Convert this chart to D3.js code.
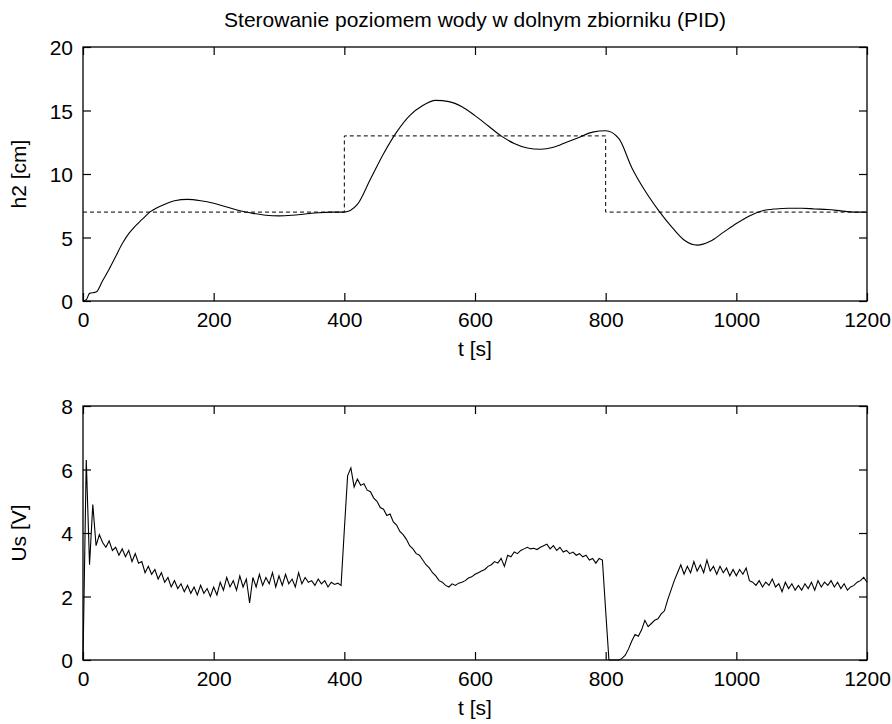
<!DOCTYPE html>
<html>
<head>
<meta charset="utf-8">
<script src="https://cdn.jsdelivr.net/npm/d3@7"></script>
<style>
  body { margin: 0; background: #fff; }
  text { font-family: "Liberation Sans", Arial, sans-serif; fill: #000; }
</style>
</head>
<body>
<svg></svg>
<script>
/* PID water level control, two stacked plots */
var w = 892, h = 724;

var svg = d3.select("svg")
            .attr("width", w)
            .attr("height", h);

var xTicks = [0, 200, 400, 600, 800, 1000, 1200];
var h2Ticks = [0, 5, 10, 15, 20];
var usTicks = [0, 2, 4, 6, 8];

// water level h2 [cm], sampled every 20 s (plus early points)
var h2_t = [0, 5, 10, 20, 30, 40, 50, 60, 70, 80, 90, 100, 120, 140, 160, 180, 200,
            220, 240, 260, 280, 300, 320, 340, 360, 380, 400, 420, 440, 460, 480,
            500, 520, 540, 560, 580, 600, 620, 640, 660, 680, 700, 720, 740, 760,
            780, 800, 820, 840, 860, 880, 900, 920, 940, 960, 980, 1000, 1020,
            1040, 1060, 1080, 1100, 1120, 1140, 1160, 1180, 1200];
var h2_val = [0, 0.1, 0.6, 0.7, 1.6, 2.5, 3.5, 4.5, 5.3, 5.9, 6.4, 6.9, 7.5, 7.9, 8.0, 7.9, 7.7,
              7.4, 7.1, 6.9, 6.75, 6.7, 6.75, 6.85, 6.95, 7.0, 7.0, 7.6, 9.6, 11.6, 13.3,
              14.6, 15.4, 15.8, 15.7, 15.3, 14.6, 13.8, 13.0, 12.4, 12.05, 11.95, 12.1, 12.5, 12.9,
              13.3, 13.4, 12.8, 10.5, 8.7, 7.2, 5.9, 4.8, 4.4, 4.7, 5.4, 6.1, 6.7,
              7.1, 7.25, 7.3, 7.3, 7.25, 7.2, 7.1, 7.0, 7.0];

// set point (dashed)
var sp_t = [0, 400, 400, 800, 800, 1200];
var sp_val = [7, 7, 13, 13, 7, 7];

// control voltage Us [V], one value every 5 s
var us_val = [
  0, 6.3, 3.0, 4.9, 3.6, 3.95, 3.7, 3.55, 3.75, 3.45,
  3.55, 3.3, 3.5, 3.25, 3.45, 3.1, 3.35, 3.05, 3.1, 2.75,
  2.95, 2.7, 2.85, 2.55, 2.75, 2.45, 2.6, 2.3, 2.5, 2.25,
  2.4, 2.15, 2.35, 2.1, 2.3, 2.05, 2.35, 2.1, 2.25, 2.0,
  2.3, 2.05, 2.45, 2.2, 2.6, 2.3, 2.5, 2.2, 2.65, 2.3,
  2.55, 1.8, 2.6, 2.3, 2.7, 2.35, 2.6, 2.4, 2.75, 2.3,
  2.65, 2.35, 2.7, 2.4, 2.55, 2.3, 2.75, 2.4, 2.6, 2.45,
  2.5, 2.35, 2.55, 2.4, 2.5, 2.3, 2.45, 2.38, 2.42, 2.35,
  4.1, 5.8, 6.05, 5.45, 5.7, 5.5, 5.55, 5.35, 5.3, 5.1,
  5.0, 4.8, 4.75, 4.55, 4.6, 4.35, 4.25, 4.05, 3.95, 3.8,
  3.6, 3.5, 3.35, 3.3, 3.15, 3.0, 2.9, 2.75, 2.65, 2.5,
  2.45, 2.35, 2.3, 2.4, 2.35, 2.42, 2.45, 2.5, 2.58, 2.62,
  2.7, 2.75, 2.8, 2.85, 2.95, 3.0, 3.1, 3.05, 3.2, 2.95,
  3.3, 3.25, 3.4, 3.35, 3.45, 3.5, 3.55, 3.5, 3.52, 3.48,
  3.55, 3.6, 3.65, 3.5, 3.6, 3.45, 3.55, 3.4, 3.45, 3.35,
  3.4, 3.3, 3.35, 3.25, 3.3, 3.15, 3.2, 3.05, 3.2, 3.15,
  1.55, 0, 0, 0, 0, 0.05, 0.15, 0.35, 0.6, 0.8,
  0.75, 0.95, 1.25, 1.05, 1.15, 1.25, 1.3, 1.45, 1.55, 1.9,
  2.2, 2.5, 2.75, 3.0, 2.7, 2.95, 2.75, 3.1, 2.8, 3.0,
  2.75, 3.15, 2.8, 2.95, 2.7, 2.95, 2.75, 2.9, 2.65, 2.85,
  2.65, 2.85, 2.7, 2.9, 2.5, 2.45, 2.35, 2.5, 2.3, 2.45,
  2.35, 2.55, 2.3, 2.4, 2.15, 2.45, 2.25, 2.4, 2.2, 2.35,
  2.2, 2.4, 2.25, 2.45, 2.2, 2.5, 2.3, 2.45, 2.35, 2.5,
  2.3, 2.45, 2.25, 2.4, 2.2, 2.3, 2.35, 2.45, 2.5, 2.6,
  2.45
];
var us_dt = 5;

var left = 83, right = 867;

var x = d3.scaleLinear().domain([0, 1200]).range([left, right]);

function drawPanel(top, bottom, yMax, yTicks, ylabel) {
  var y = d3.scaleLinear().domain([0, yMax]).range([bottom, top]);
  var g = svg.append("g");

  // ticks on all four sides, pointing inward
  var ax = [
    {a: d3.axisBottom(x), t: bottom, lab: true},
    {a: d3.axisTop(x), t: top, lab: false}
  ];
  ax.forEach(function(o) {
    var s = g.append("g")
             .attr("transform", "translate(0," + o.t + ")")
             .call(o.a.tickValues(xTicks).tickFormat(d3.format("d"))
                      .tickSizeInner(-8).tickSizeOuter(0));
    s.select(".domain").remove();
    s.selectAll("line").attr("stroke", "#000").attr("stroke-width", 1.2);
    if (o.lab) s.selectAll("text").attr("font-size", 21).attr("y", 11).attr("dy", "0.71em");
    else s.selectAll("text").remove();
  });

  var ay = [
    {a: d3.axisLeft(y), t: left, lab: true},
    {a: d3.axisRight(y), t: right, lab: false}
  ];
  ay.forEach(function(o) {
    var s = g.append("g")
             .attr("transform", "translate(" + o.t + ",0)")
             .call(o.a.tickValues(yTicks).tickFormat(d3.format("d"))
                      .tickSizeInner(-8).tickSizeOuter(0));
    s.select(".domain").remove();
    s.selectAll("line").attr("stroke", "#000").attr("stroke-width", 1.2);
    if (o.lab) s.selectAll("text").attr("font-size", 21).attr("x", -10).attr("dy", "0.36em");
    else s.selectAll("text").remove();
  });

  g.append("rect")
   .attr("x", left).attr("y", top)
   .attr("width", right - left).attr("height", bottom - top)
   .attr("fill", "none").attr("stroke", "#000").attr("stroke-width", 1.3);

  g.append("text")
   .attr("x", (left + right) / 2).attr("y", bottom + 55)
   .attr("text-anchor", "middle").attr("font-size", 21)
   .text("t [s]");

  g.append("text")
   .attr("transform", "translate(26," + (top + bottom) / 2 + ") rotate(-90)")
   .attr("text-anchor", "middle").attr("font-size", 21)
   .text(ylabel);

  return y;
}

var y1 = drawPanel(47, 301, 20, h2Ticks, "h2 [cm]");
var y2 = drawPanel(406, 660, 8, usTicks, "Us [V]");

svg.append("text")
   .attr("x", (left + right) / 2).attr("y", 27)
   .attr("text-anchor", "middle").attr("font-size", 21)
   .text("Sterowanie poziomem wody w dolnym zbiorniku (PID)");

var h2_data = h2_t.map(function(t, i) { return [t, h2_val[i]]; });
var sp_data = sp_t.map(function(t, i) { return [t, sp_val[i]]; });
var us_data = us_val.map(function(v, i) { return [i * us_dt, v]; });

var line1 = d3.line()
              .x(function(d) { return x(d[0]); })
              .y(function(d) { return y1(d[1]); });

svg.append("path")
   .attr("d", line1(sp_data))
   .attr("fill", "none")
   .attr("stroke", "#000")
   .attr("stroke-width", 1)
   .attr("stroke-dasharray", "4,3");

svg.append("path")
   .attr("d", line1.curve(d3.curveMonotoneX)(h2_data))
   .attr("fill", "none")
   .attr("stroke", "#000")
   .attr("stroke-width", 1.1);

var line2 = d3.line()
              .x(function(d) { return x(d[0]); })
              .y(function(d) { return y2(d[1]); });

svg.append("path")
   .attr("d", line2(us_data))
   .attr("fill", "none")
   .attr("stroke", "#000")
   .attr("stroke-width", 1.1);
</script>
</body>
</html>
